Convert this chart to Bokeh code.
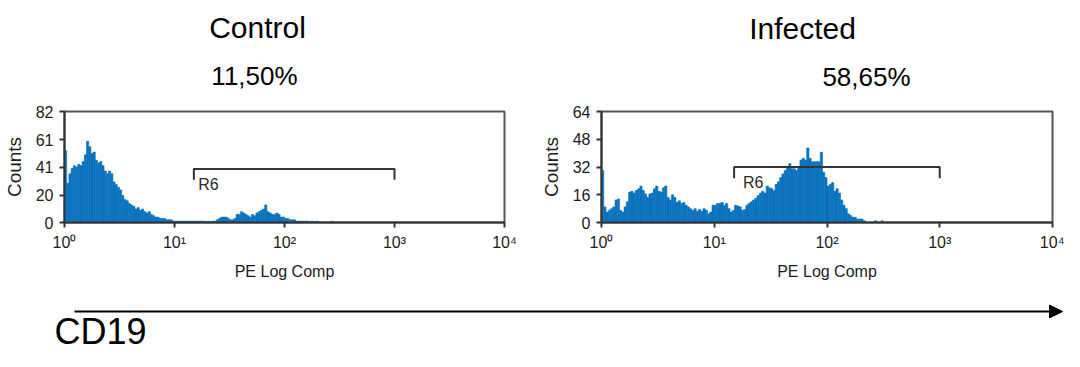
import numpy as np
from bokeh.plotting import figure
from bokeh.layouts import column, row
from bokeh.models import FixedTicker, Range1d, Arrow, NormalHead, ColumnDataSource
from bokeh.embed import file_html
from bokeh.resources import INLINE
from bokeh.core.properties import value

# ---------------- data ----------------
BINS_PER_DECADE = 50  # log channels per decade

control_counts = [
    53, 29, 36, 40, 42, 41, 43, 42, 45, 50,
    60, 56, 51, 52, 46, 44, 45, 42, 38, 36,
    38, 36, 30, 28, 26, 24, 20, 17, 16, 14,
    13, 12, 10, 11, 9, 10, 8, 7, 8, 6,
    5, 4, 4, 3, 3, 3, 2, 2, 2, 1,
    1, 1, 1, 1, 1, 1, 1, 1, 1, 1,
    1, 1, 1, 1, 0.5, 1, 0.5, 1, 1, 2,
    3, 4, 4, 4, 3, 2, 2, 3, 6, 6,
    8, 7, 6, 5, 4, 6, 5, 7, 8, 9,
    10, 13, 8, 7, 6, 6, 7, 6, 4, 4,
    3, 3, 2, 2, 2, 1, 1, 1, 1, 1,
    1, 0.5, 1, 0.5, 1, 0.5, 0, 0, 0, 0,
    0, 1, 0,
]

infected_counts = [
    30, 9, 6, 7, 8, 9, 13, 13.5, 7, 6,
    9, 12, 17.5, 18, 17, 18.5, 19.5, 21, 18.5, 16.5,
    14.5, 16.5, 17, 19.5, 21, 18, 17.5, 20, 21, 14.5,
    13, 16, 14.5, 11.5, 12.5, 11, 11.5, 10, 9, 8,
    7, 8, 6.5, 7.5, 6.5, 8, 7, 5, 6, 10,
    10, 11, 11, 11.5, 10, 11, 8, 6, 7, 10,
    9.5, 9, 7, 7.5, 10, 11, 12, 13, 14, 15.5,
    17, 18, 17, 21, 20, 19.5, 18.5, 22, 23.5, 26,
    28, 30, 32, 34, 31, 31, 30, 32, 36, 37,
    36, 43, 37, 35, 35, 35, 35, 40.5, 29, 26,
    21, 22, 23, 18, 19.5, 17, 13, 10, 8, 5,
    4, 3, 3, 2, 2, 2, 1, 0, 0, 0,
    0, 1, 0, 0, 1,
]

titles = ["Control", "Infected"]
percents = ["11,50%", "58,65%"]
x_ticks = [1, 10, 100, 1000, 10000]
x_tick_labels = ["10\u2070", "10\u00b9", "10\u00b2", "10\u00b3", "10\u2074"]
control_yticks = [0, 20, 41, 61, 82]
infected_yticks = [0, 16, 32, 48, 64]
gate_name = "R6"
gate_bounds = [15, 1000]
control_gate = dict(y=39.5, drop=8, label_x=16.4, label_y=27.8)
infected_gate = dict(y=32, drop=6.5, label_x=18, label_y=23)
axis_name = "CD19"

FONT = "Liberation Sans"
BLUE = "#0B72BE"
INK = "#1c1c1c"


def hist_fig(counts, yticks, gate, width, height, bl, br, bt, bb):
    p = figure(width=width, height=height, x_axis_type="log",
               x_range=Range1d(1, 10000), y_range=Range1d(0, yticks[-1]),
               output_backend="svg", toolbar_location=None, title=None,
               min_border_left=bl, min_border_right=br,
               min_border_top=bt, min_border_bottom=bb)
    c = np.asarray(counts, dtype=float)
    idx = np.arange(len(c))
    keep = c > 0
    src = ColumnDataSource(dict(
        left=10 ** (idx[keep] / BINS_PER_DECADE),
        right=10 ** ((idx[keep] + 1) / BINS_PER_DECADE),
        top=c[keep]))
    p.quad(left="left", right="right", bottom=0, top="top", source=src,
           fill_color=BLUE, line_color=BLUE, line_width=0.6)

    # gate bracket
    g0, g1 = gate_bounds
    gy, gd = gate["y"], gate["drop"]
    p.line(x=[g0, g0, g1, g1], y=[gy - gd, gy, gy, gy - gd],
           line_color="#333333", line_width=2)
    p.text(x=[gate["label_x"]], y=[gate["label_y"]], text=[gate_name],
           text_font=value(FONT), text_font_size="16px", text_color="#2a2a2a",
           text_baseline="middle", text_align="left")

    p.xgrid.visible = False
    p.ygrid.visible = False
    p.outline_line_color = "#555555"
    p.outline_line_width = 2
    p.background_fill_color = "white"
    p.border_fill_color = "white"

    p.xaxis.ticker = FixedTicker(ticks=x_ticks)
    p.xaxis.major_label_overrides = {t: l for t, l in zip(x_ticks, x_tick_labels)}
    p.yaxis.ticker = FixedTicker(ticks=yticks)
    for ax in (p.xaxis[0], p.yaxis[0]):
        ax.axis_line_color = "#333333"
        ax.axis_line_width = 2
        ax.major_tick_line_color = "#333333"
        ax.major_tick_line_width = 2
        ax.major_tick_in = 0
        ax.major_tick_out = 5
        ax.minor_tick_line_color = None
        ax.major_label_text_font = FONT
        ax.major_label_text_font_size = "16px"
        ax.major_label_text_color = INK
        ax.axis_label_text_font = FONT
        ax.axis_label_text_font_style = "normal"
        ax.axis_label_text_color = INK
    p.xaxis.axis_label = "PE Log Comp"
    p.xaxis.axis_label_text_font_size = "16px"
    p.xaxis.axis_label_standoff = 9
    p.xaxis.major_label_standoff = 6
    p.yaxis.axis_label = "Counts"
    p.yaxis.axis_label_text_font_size = "19px"
    p.yaxis.axis_label_standoff = 8
    p.yaxis.major_label_standoff = 6
    return p


def blank_fig(width, height, y0, y1):
    p = figure(width=width, height=height, x_range=Range1d(0, width),
               y_range=Range1d(y1, y0), x_axis_type=None, y_axis_type=None,
               output_backend="svg", toolbar_location=None, title=None,
               min_border=0, min_border_left=0, min_border_right=0,
               min_border_top=0, min_border_bottom=0)
    p.xgrid.visible = False
    p.ygrid.visible = False
    p.outline_line_color = None
    return p


# ---------------- top: titles ----------------
top = blank_fig(1064, 103, 0, 103)
top.text(x=[257, 802], y=[27, 28], text=titles, text_font=value(FONT),
         text_font_size="30px", text_color="black", text_align="center",
         text_baseline="middle")
top.text(x=[254, 866], y=[75.5, 76.5], text=percents, text_font=value(FONT),
         text_font_size="26px", text_color="black", text_align="center",
         text_baseline="middle")

# ---------------- middle: histograms ----------------
left = hist_fig(control_counts, control_yticks, control_gate,
                537, 182, 62, 33, 8, 62)
right = hist_fig(infected_counts, infected_yticks, infected_gate,
                 527, 182, 61, 12, 8, 63)

# ---------------- bottom: arrow + axis name ----------------
bottom = blank_fig(1064, 66, 285, 351)
bottom.add_layout(Arrow(end=NormalHead(size=13, fill_color="black", line_color="black"),
                        x_start=74, y_start=311, x_end=1062, y_end=311,
                        line_color="black", line_width=2))
bottom.text(x=[54], y=[331], text=[axis_name], text_font=value(FONT),
            text_font_size="36px", text_color="black", text_align="left",
            text_baseline="middle")

layout = column(top, row(left, right, spacing=0), bottom, spacing=0)

with open("out.html", "w") as f:
    f.write(file_html(layout, INLINE))
